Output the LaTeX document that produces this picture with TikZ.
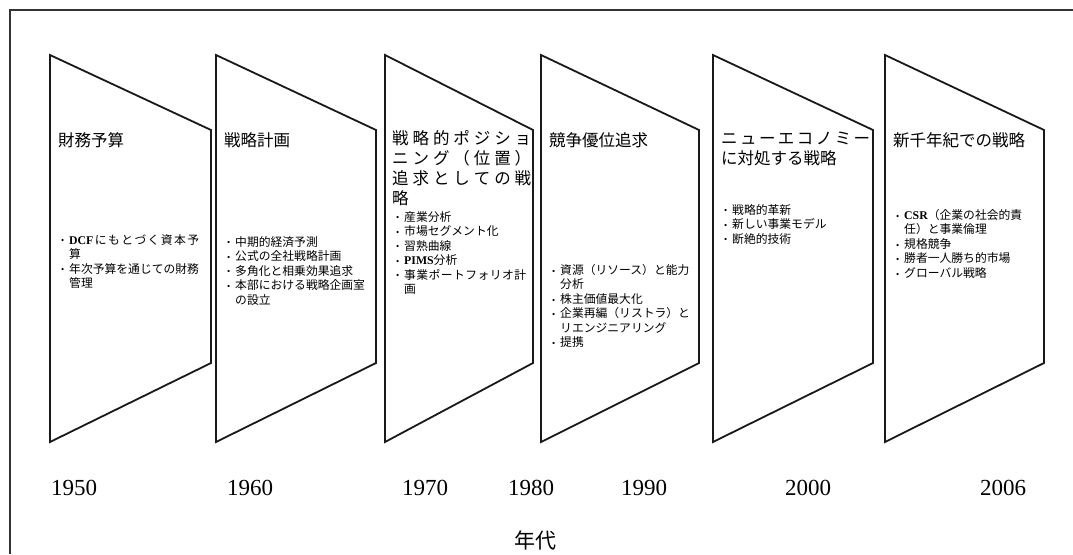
\documentclass[tikz,border=0pt]{standalone}
\usepackage{fontspec}
\setmainfont{Liberation Serif}
\newfontfamily\jp{Noto Sans CJK JP}
\newcommand\bl[1]{\makebox[8pt][l]{\rmfamily\raisebox{0.3pt}{\small •}}#1}
\newcommand\cn[1]{\hspace*{8pt}#1}
\newcommand\lat[1]{{\rmfamily\bfseries #1}}
\makeatletter
\def\spreadchars#1{\spr@#1\@nil}
\def\spr@#1#2\@nil{#1\ifx\relax#2\relax\else\hfil\spr@#2\@nil\fi}
\makeatother
\newcommand\sline[2]{\makebox[#1][s]{\spreadchars{#2}}}
\begin{document}
\begin{tikzpicture}[x=1pt,y=-1pt,
  period/.style={draw=black!90, line width=1.8pt, line join=miter},
  frame/.style={draw=black!80, line width=1.5pt},
  ttl/.style={anchor=north west, inner sep=0pt, align=left, font=\jp\fontsize{16.5}{20}\selectfont},
  blt/.style={anchor=north west, inner sep=0pt, align=left, font=\jp\fontsize{11.8}{14.5}\selectfont},
  yr/.style={inner sep=0pt, font=\fontsize{23}{23}\selectfont},
  axis/.style={inner sep=0pt, font=\jp\fontsize{21}{21}\selectfont}]
\useasboundingbox (0,0) rectangle (1073,554);
\draw[frame] (10,554) -- (10,10) -- (1073,10);
% periods
\foreach \xl/\xr [count=\i] in {50/211, 216/376, 385/533, 541/699, 713/873, 885/1044}{
  \draw[period] (\xl,55) coordinate (p\i) -- (\xr,130) -- (\xr,363) -- (\xl,442) -- cycle;
}
% titles
\node[ttl] (t1) at (58,132) {財務予算};
\node[ttl] (t2) at (224,132) {戦略計画};
\node[ttl] (t3) at (392,130) {\sline{139pt}{戦略的ポジショ}\\\sline{139pt}{ニング（位置）}\\\sline{139pt}{追求としての戦}\\略};
\node[ttl] (t4) at (549,132) {競争優位追求};
\node[ttl] (t5) at (721,132) {\sline{149pt}{ニューエコノミー}\\に対処する戦略};
\node[ttl] (t6) at (893,132) {新千年紀での戦略};
% bullets
\node[blt] (b1) at (61,234) {\bl{\sline{130pt}{{\lat{DCF}}にもとづく資本予}}\\\cn{算}\\\bl{年次予算を通じての財務}\\\cn{管理}};
\node[blt] (b2) at (227,236) {\bl{中期的経済予測}\\\bl{公式の全社戦略計画}\\\bl{多角化と相乗効果追求}\\\bl{本部における戦略企画室}\\\cn{の設立}};
\node[blt] (b3) at (396,211) {\bl{産業分析}\\\bl{市場セグメント化}\\\bl{習熟曲線}\\\bl{\lat{PIMS}分析}\\\bl{\sline{122pt}{事業ポートフォリオ計}}\\\cn{画}};
\node[blt] (b4) at (552,264) {\bl{資源（リソース）と能力}\\\cn{分析}\\\bl{株主価値最大化}\\\bl{企業再編（リストラ）と}\\\cn{リエンジニアリング}\\\bl{提携}};
\node[blt] (b5) at (724,204) {\bl{戦略的革新}\\\bl{新しい事業モデル}\\\bl{断絶的技術}};
\node[blt] (b6) at (896,209) {\bl{\lat{CSR}（企業の社会的責}\\\cn{任）と事業倫理}\\\bl{規格競争}\\\bl{勝者一人勝ち的市場}\\\bl{グローバル戦略}};
% years
\node[yr] (y1950) at (74,488) {1950};
\node[yr] (y1960) at (250,488) {1960};
\node[yr] (y1970) at (425,488) {1970};
\node[yr] (y1980) at (531,488) {1980};
\node[yr] (y1990) at (644,488) {1990};
\node[yr] (y2000) at (808,488) {2000};
\node[yr] (y2006) at (1003,488) {2006};
\node[axis] (era) at (535,540) {年代};
\end{tikzpicture}
\end{document}
